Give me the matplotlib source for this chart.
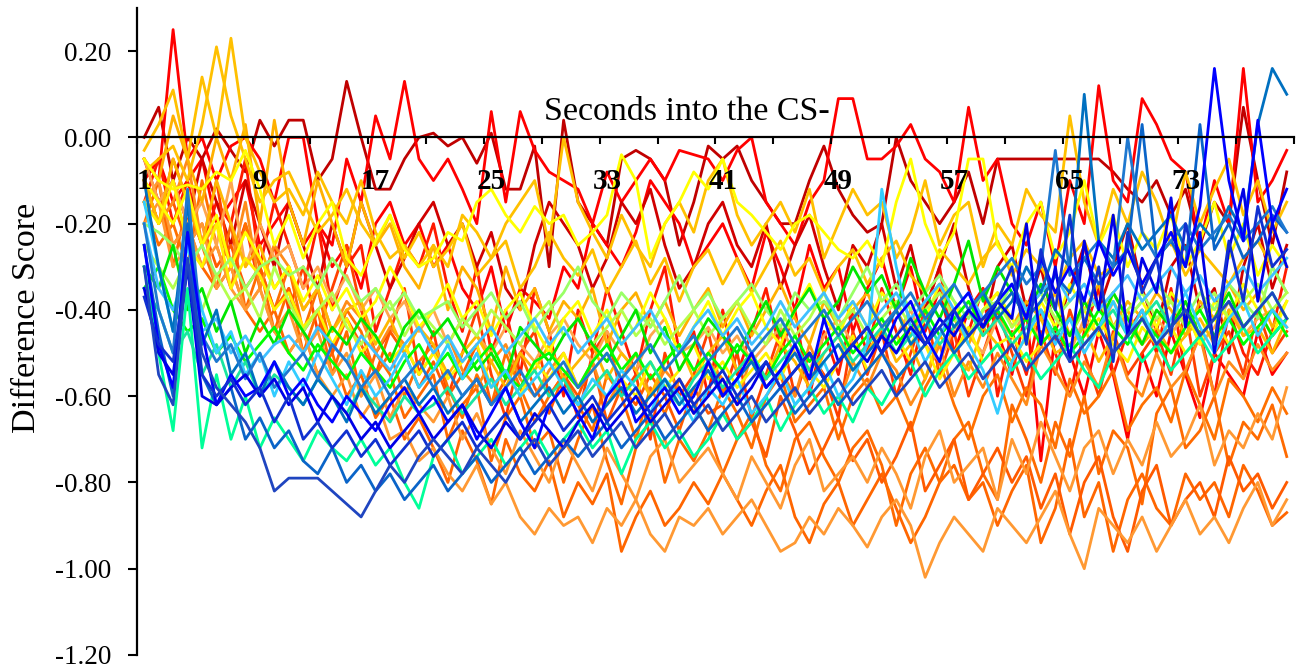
import numpy as np
import matplotlib.pyplot as plt

# one value per second, in hundredths of a difference score
seconds = np.arange(1, 81)

dark_red_1 = [0, 7, -10, 0, -5, 2, -3, -8, 4, -2,
              4, 4, -10, -5, 13, 0, -12, -12, -5, 0,
              1, -2, 0, -6, 1, -12, -12, -2, -30, 4,
              -15, -20, -25, -5, -3, -5, -10, -25, -15, -2,
              -5, -2, -10, -15, -20, -20, -10, -2, -12, -18,
              -22, -20, 0, -10, -15, -20, -15, -8, -20, -5,
              -5, -5, -5, -5, -5, -5, -5, -8, -12, -15,
              -10, -18, -12, -25, -15, -20, 7, -10, -25, -8]
red_1 = [-5, -10, 25, -5, 0, -10, -2, 0, -5, -15,
         0, 0, -20, -25, -5, -15, 5, -5, 13, -5,
         -10, -5, -12, -20, 6, -15, 6, -3, -8, -10,
         -12, -20, -8, -15, -10, -5, -10, -3, -4, -5,
         -10, -3, 0, -15, -20, -25, -15, -10, 9, 9,
         -5, -5, -2, 3, -5, -8, -15, 7, -10, -5,
         -20, -25, -15, -30, -10, -20, 12, -10, -15, 9,
         3, -5, -8, -25, -10, -20, 16, -15, -10, -3]
red_2 = [-10, -5, -15, -10, -5, -20, -15, -10, -25, -20,
         -15, -25, -20, -30, -25, -35, -20, -15, -25, -20,
         -30, -25, -35, -40, -30, -45, -35, -38, -42, -30,
         -35, -20, -25, -30, -22, -10, -15, -20, -30, -25,
         -20, -28, -35, -22, -30, -40, -25, -35, -30, -45,
         -35, -28, -40, -30, -45, -35, -50, -40, -35, -45,
         -55, -40, -75, -45, -50, -60, -45, -55, -70, -50,
         -60, -45, -55, -65, -50, -55, -60, -45, -55, -50]
red_3 = [-15, -5, -20, -10, -25, -15, -20, -5, -30, -15,
         -25, -35, -20, -40, -30, -25, -45, -35, -25, -30,
         -20, -35, -45, -30, -50, -40, -55, -35, -45, -60,
         -40, -50, -35, -45, -55, -40, -30, -50, -45, -60,
         -40, -55, -45, -35, -50, -40, -60, -45, -55, -40,
         -50, -35, -45, -55, -40, -30, -50, -45, -35, -60,
         -45, -55, -40, -50, -60, -45, -35, -55, -45, -40,
         -50, -35, -55, -45, -60, -40, -50, -55, -45, -30]
dark_red_2 = [-5, -15, -10, -20, -5, -15, -25, -10, -20, -30,
              -15, -25, -35, -20, -30, -15, -25, -35, -28, -20,
              -15, -25, -20, -30, -22, -35, -40, -25, -15, -20,
              -25, -35, -28, -15, -20, -12, -25, -35, -30, -20,
              -15, -25, -30, -20, -35, -25, -18, -30, -40, -25,
              -30, -20, -35, -25, -40, -30, -20, -35, -45, -30,
              -25, -40, -30, -45, -35, -25, -40, -30, -20, -35,
              -45, -30, -25, -40, -35, -50, -30, -20, -35, -25]
orange_red = [-10, -20, -5, -15, -25, -10, -30, -20, -35, -25,
              -40, -30, -45, -35, -25, -40, -50, -45, -35, -55,
              -45, -60, -50, -40, -55, -65, -50, -45, -60, -55,
              -65, -50, -45, -60, -55, -70, -50, -60, -55, -45,
              -60, -50, -65, -55, -45, -60, -50, -55, -65, -45,
              -55, -45, -60, -50, -40, -55, -45, -60, -50, -40,
              -50, -60, -45, -55, -40, -50, -60, -45, -55, -50,
              -45, -55, -40, -60, -50, -45, -55, -40, -50, -45]
dark_orange_1 = [-10, -15, -25, -20, -30, -35, -30, -40, -45, -40,
                 -50, -45, -55, -50, -60, -55, -65, -60, -70, -65,
                 -72, -80, -68, -75, -85, -70, -78, -82, -75, -88,
                 -80, -85, -78, -96, -88, -82, -90, -86, -80, -85,
                 -78, -84, -90, -82, -76, -88, -94, -85, -80, -90,
                 -84, -78, -86, -94, -88, -80, -76, -84, -80, -90,
                 -82, -76, -94, -86, -70, -88, -80, -96, -84, -78,
                 -86, -90, -78, -84, -80, -88, -76, -82, -90, -87]
dark_orange_2 = [-20, -10, -30, -15, -25, -35, -20, -40, -30, -45,
                 -35, -50, -40, -55, -45, -60, -50, -55, -65, -60,
                 -55, -70, -62, -58, -75, -65, -60, -72, -68, -80,
                 -70, -62, -75, -85, -72, -65, -80, -70, -75, -68,
                 -78, -70, -64, -76, -82, -70, -66, -74, -80, -72,
                 -68, -76, -90, -78, -72, -80, -70, -66, -78, -84,
                 -62, -70, -80, -66, -74, -60, -78, -68, -72, -85,
                 -64, -58, -72, -68, -60, -76, -66, -70, -62, -74]
dark_orange_3 = [-15, -25, -20, -30, -10, -25, -35, -20, -30, -40,
                 -30, -45, -35, -50, -40, -45, -55, -50, -60, -52,
                 -48, -58, -65, -55, -62, -50, -58, -66, -60, -55,
                 -62, -68, -55, -60, -70, -58, -64, -56, -62, -68,
                 -58, -64, -72, -60, -55, -66, -62, -58, -70, -60,
                 -56, -64, -60, -68, -58, -52, -62, -70, -60, -55,
                 -66, -58, -62, -72, -56, -64, -60, -54, -68, -62,
                 -58, -66, -54, -62, -70, -56, -60, -66, -58, -64]
dark_orange_4 = [-10, -20, -15, -25, -20, -30, -25, -35, -30, -40,
                 -35, -45, -40, -50, -42, -48, -55, -45, -50, -58,
                 -52, -60, -55, -48, -62, -56, -50, -58, -64, -55,
                 -60, -52, -66, -58, -62, -55, -60, -68, -58, -64,
                 -62, -70, -66, -74, -60, -68, -78, -72, -65, -75,
                 -70, -80, -74, -66, -82, -76, -70, -84, -78, -72,
                 -80, -74, -86, -78, -92, -80, -74, -88, -96, -82,
                 -76, -90, -84, -80, -88, -74, -82, -78, -86, -80]
orange_1 = [-15, -10, -25, -20, -30, -25, -35, -40, -35, -45,
            -50, -45, -55, -60, -55, -65, -60, -70, -68, -75,
            -72, -78, -82, -76, -85, -80, -88, -92, -86, -90,
            -88, -94, -86, -90, -84, -92, -96, -88, -90, -86,
            -92, -88, -84, -90, -96, -94, -88, -92, -86, -90,
            -95, -88, -84, -90, -102, -94, -88, -92, -96, -86,
            -90, -94, -88, -82, -92, -100, -86, -90, -94, -88,
            -96, -90, -84, -92, -88, -94, -86, -80, -90, -84]
orange_2 = [-20, -15, -30, -25, -20, -35, -30, -40, -35, -45,
            -40, -50, -45, -55, -50, -60, -55, -65, -58, -62,
            -66, -60, -70, -64, -72, -78, -68, -74, -80, -70,
            -76, -82, -72, -78, -84, -74, -70, -80, -76, -72,
            -78, -84, -74, -80, -86, -76, -70, -82, -78, -74,
            -80, -72, -78, -86, -74, -68, -80, -76, -72, -84,
            -70, -78, -66, -74, -82, -72, -68, -78, -70, -76,
            -66, -74, -70, -62, -76, -68, -72, -64, -70, -58]
orange_3 = [-10, -20, -15, -5, -25, -20, -30, -15, -35, -25,
            -30, -40, -35, -45, -38, -42, -50, -44, -48, -55,
            -50, -46, -54, -58, -52, -48, -56, -60, -54, -50,
            -58, -52, -62, -56, -50, -60, -54, -58, -64, -52,
            -56, -62, -50, -58, -54, -60, -48, -56, -62, -52,
            -58, -50, -54, -62, -56, -48, -60, -52, -58, -50,
            -56, -62, -48, -54, -60, -52, -58, -46, -56, -60,
            -50, -58, -54, -46, -60, -52, -56, -48, -54, -50]
light_orange = [-5, -15, -10, -20, -15, -25, -10, -30, -20, -28,
                -25, -35, -30, -38, -32, -40, -35, -42, -38, -45,
                -40, -48, -42, -46, -50, -44, -48, -52, -46, -42,
                -48, -52, -45, -50, -54, -46, -42, -50, -48, -44,
                -50, -46, -52, -48, -44, -50, -54, -46, -42, -48,
                -44, -50, -46, -40, -48, -52, -44, -46, -50, -42,
                -46, -40, -48, -44, -50, -42, -46, -38, -44, -48,
                -42, -46, -40, -48, -44, -38, -46, -42, -40, -44]
orange_high = [-5, -10, 5, -5, -15, 0, -10, 3, -20, 4,
               -15, -25, -10, -20, -30, -15, -25, -20, -30, -35,
               -25, -40, -30, -35, -45, -30, -40, -35, -45, -38,
               -42, -35, -48, -40, -36, -44, -38, -46, -40, -35,
               -44, -38, -46, -40, -34, -42, -48, -38, -44, -40,
               -36, -44, -40, -46, -38, -34, -42, -48, -40, -36,
               -44, -38, -42, -36, -46, -40, -34, -44, -38, -42,
               -36, -40, -46, -38, -42, -34, -40, -36, -44, -38]
gold_1 = [-3, 3, 11, -5, 14, 0, 23, 0, -8, -15,
          -12, -18, -8, -15, -20, -10, -22, -28, -25, -30,
          -25, -30, -18, -22, -28, -20, -15, -10, -25, 0,
          -15, -22, -28, -18, -25, -30, -20, -15, -22, -10,
          -5, -18, -25, -20, -15, -22, -12, -28, -20, -12,
          -18, -15, -28, -22, -10, -25, -18, -15, -30, -20,
          -25, -12, -18, -22, 5, -15, -25, -12, -20, -8,
          -15, -25, -8, -20, -12, -5, -18, -10, -22, -15]
gold_2 = [-8, -5, -2, -10, 3, 21, 5, -5, -15, -10,
          -8, -15, -22, -18, -12, -20, -25, -18, -28, -22,
          -30, -26, -20, -32, -28, -24, -35, -30, -22, -28,
          -32, -26, -36, -30, -24, -34, -28, -38, -30, -26,
          -34, -28, -36, -30, -24, -32, -28, -36, -30, -26,
          -34, -28, -24, -32, -36, -26, -30, -34, -28, -24,
          -32, -26, -30, -36, -28, -24, -32, -30, -26, -34,
          -28, -24, -32, -26, -30, -34, -28, -24, -30, -36]
gold_3 = [-10, -20, -5, -15, -25, -10, -20, -30, -25, -35,
          -30, -40, -35, -45, -40, -38, -48, -42, -50, -44,
          -48, -55, -50, -46, -52, -58, -50, -54, -48, -56,
          -52, -48, -56, -50, -54, -60, -52, -48, -56, -50,
          -46, -54, -50, -56, -48, -52, -58, -50, -46, -54,
          -50, -44, -52, -48, -56, -46, -50, -54, -44, -48,
          -52, -46, -42, -50, -48, -44, -52, -46, -40, -48,
          -44, -50, -46, -42, -48, -40, -46, -44, -50, -42]
yellow_1 = [-5, -10, -12, -11, -12, -8, -10, -3, -12, -25,
            -18, -28, -20, -15, -28, -32, -24, -18, -26, -30,
            -28, -22, -24, -15, -12, -18, -22, -16, -20, -18,
            -25, -22, -18, -4, -10, -28, -20, -15, -8, -12,
            -5, -15, -18, -22, -26, -20, -18, -22, -26, -28,
            -24, -30, -15, -5, -20, -28, -22, -5, -5, -25,
            -30, -20, -15, -28, -22, -10, -25, -18, -30, -22,
            -26, -18, -30, -24, -15, -28, -20, -32, -25, -30]
yellow_2 = [-10, -15, -20, -12, -25, -18, -30, -22, -28, -35,
            -30, -38, -32, -40, -35, -42, -38, -30, -36, -44,
            -40, -34, -42, -38, -46, -40, -36, -44, -50, -42,
            -38, -46, -40, -48, -44, -36, -42, -50, -44, -38,
            -46, -40, -36, -44, -48, -40, -34, -42, -46, -38,
            -44, -36, -40, -48, -42, -34, -38, -46, -40, -36,
            -42, -48, -38, -44, -34, -40, -46, -36, -42, -38,
            -44, -36, -40, -48, -38, -42, -34, -40, -46, -38]
pale_yellow = [-15, -20, -10, -25, -30, -20, -35, -28, -32, -40,
               -36, -44, -40, -48, -42, -50, -46, -52, -48, -55,
               -50, -56, -52, -48, -58, -54, -60, -52, -56, -50,
               -58, -54, -50, -56, -60, -52, -58, -54, -48, -56,
               -52, -58, -54, -50, -56, -48, -54, -58, -52, -46,
               -54, -50, -46, -52, -48, -56, -50, -44, -52, -48,
               -46, -52, -48, -44, -50, -46, -42, -48, -52, -44,
               -48, -44, -50, -46, -42, -48, -44, -40, -46, -42]
light_green_1 = [-20, -22, -25, -30, -25, -32, -28, -35, -30, -28,
                 -32, -30, -35, -28, -33, -38, -35, -40, -36, -42,
                 -40, -38, -44, -40, -36, -42, -38, -45, -40, -36,
                 -30, -38, -42, -36, -40, -44, -38, -32, -40, -36,
                 -42, -38, -34, -40, -44, -36, -40, -38, -42, -36,
                 -30, -38, -34, -40, -36, -32, -38, -42, -36, -40,
                 -34, -40, -36, -42, -38, -34, -40, -36, -42, -38,
                 -34, -38, -42, -36, -40, -34, -38, -42, -30, -36]
light_green_2 = [-25, -30, -35, -28, -40, -32, -38, -35, -42, -30,
                 -38, -45, -40, -36, -44, -48, -42, -38, -46, -40,
                 -44, -48, -42, -46, -40, -44, -48, -42, -38, -46,
                 -42, -48, -44, -40, -46, -42, -48, -44, -40, -46,
                 -42, -38, -44, -48, -40, -46, -42, -36, -44, -40,
                 -46, -42, -38, -44, -40, -36, -42, -46, -40, -38,
                 -44, -40, -36, -42, -46, -40, -38, -44, -40, -36,
                 -42, -38, -44, -40, -36, -42, -38, -34, -40, -36]
green_1 = [-30, -35, -25, -40, -35, -45, -38, -50, -42, -48,
           -40, -45, -50, -44, -48, -42, -46, -52, -44, -40,
           -46, -42, -48, -54, -50, -56, -44, -48, -52, -46,
           -42, -48, -52, -46, -40, -50, -44, -54, -48, -42,
           -46, -50, -44, -38, -46, -40, -35, -42, -38, -30,
           -36, -32, -40, -28, -36, -42, -34, -24, -38, -30,
           -36, -42, -34, -40, -46, -38, -44, -36, -42, -48,
           -40, -44, -38, -46, -42, -36, -44, -40, -46, -42]
green_2 = [-35, -30, -40, -45, -42, -50, -46, -52, -48, -44,
           -50, -54, -48, -52, -56, -50, -54, -58, -52, -48,
           -54, -50, -56, -52, -48, -55, -58, -52, -50, -54,
           -58, -52, -48, -54, -50, -56, -52, -48, -54, -50,
           -54, -48, -52, -56, -50, -46, -52, -48, -44, -50,
           -46, -42, -48, -44, -40, -46, -42, -38, -44, -40,
           -46, -42, -48, -44, -50, -46, -40, -44, -48, -42,
           -46, -50, -44, -40, -46, -42, -48, -44, -40, -46]
spring_green_1 = [-30, -50, -68, -35, -72, -55, -70, -60, -72, -65,
                  -70, -75, -68, -72, -75, -70, -76, -72, -80, -86,
                  -74, -70, -78, -74, -70, -76, -72, -68, -74, -70,
                  -66, -72, -68, -78, -70, -66, -72, -68, -74, -70,
                  -64, -70, -66, -60, -68, -62, -58, -64, -60, -66,
                  -58, -62, -56, -52, -60, -54, -50, -56, -52, -48,
                  -54, -50, -56, -52, -48, -54, -58, -50, -46, -52,
                  -48, -54, -50, -46, -52, -48, -44, -50, -46, -42]
spring_green_2 = [-35, -40, -50, -45, -55, -48, -58, -52, -60, -55,
                  -58, -62, -56, -60, -64, -58, -62, -66, -60, -64,
                  -62, -58, -64, -60, -56, -62, -58, -54, -60, -56,
                  -62, -58, -54, -60, -56, -52, -58, -62, -56, -52,
                  -58, -54, -50, -56, -52, -48, -54, -50, -46, -52,
                  -48, -44, -50, -46, -42, -48, -44, -40, -46, -42,
                  -48, -44, -40, -46, -42, -48, -44, -40, -46, -42,
                  -38, -44, -40, -46, -42, -38, -44, -40, -36, -42]
sky_1 = [-15, -30, -45, -25, -40, -50, -45, -55, -50, -60,
         -52, -58, -50, -56, -62, -54, -60, -56, -50, -58,
         -54, -48, -56, -50, -58, -54, -60, -56, -52, -58,
         -62, -56, -60, -54, -58, -64, -56, -60, -66, -58,
         -62, -56, -64, -60, -54, -62, -58, -52, -60, -56,
         -48, -12, -30, -44, -52, -46, -40, -48, -54, -64,
         -52, -46, -40, -48, -42, -50, -44, -38, -46, -40,
         -48, -42, -36, -44, -50, -42, -38, -46, -40, -44]
sky_2 = [-20, -35, -40, -30, -45, -42, -50, -46, -52, -48,
         -46, -50, -44, -48, -52, -46, -50, -54, -48, -44,
         -50, -46, -52, -48, -44, -50, -46, -42, -48, -44,
         -50, -46, -42, -48, -44, -40, -46, -50, -44, -40,
         -46, -42, -48, -44, -38, -44, -40, -36, -42, -38,
         -44, -40, -36, -42, -38, -34, -40, -36, -42, -38,
         -34, -40, -36, -32, -38, -34, -40, -36, -32, -38,
         -34, -30, -36, -32, -38, -34, -30, -36, -32, -28]
steel_blue_1 = [-10, -30, -45, -15, -48, -40, -55, -50, -60, -52,
                -58, -62, -56, -60, -66, -58, -64, -60, -56, -62,
                -58, -64, -60, -56, -62, -58, -66, -62, -58, -64,
                -60, -66, -62, -58, -64, -60, -56, -62, -58, -54,
                -60, -56, -52, -58, -54, -50, -56, -52, -48, -54,
                -50, -46, -40, -48, -44, -38, -44, -40, -36, -42,
                -38, -30, -36, -26, -30, 10, -24, -28, -20, -26,
                -22, -18, -26, -20, -24, -16, -22, 3, 16, 10]
steel_blue_2 = [-25, -45, -60, -20, -55, -62, -58, -70, -65, -72,
                -68, -75, -78, -72, -80, -76, -82, -78, -84, -80,
                -76, -82, -78, -74, -80, -76, -72, -78, -74, -70,
                -74, -70, -66, -72, -68, -64, -70, -66, -62, -68,
                -64, -60, -66, -62, -58, -64, -60, -56, -62, -58,
                -54, -50, -56, -52, -48, -44, -50, -46, -42, -40,
                -36, -42, -38, -32, -36, -28, -34, -30, -26, 3,
                -28, -24, -30, 3, -26, -20, -28, -24, -18, -22]
steel_blue_3 = [-20, -40, -50, -12, -46, -52, -48, -56, -50, -58,
                -54, -50, -56, -48, -52, -58, -54, -60, -56, -52,
                -58, -54, -60, -56, -62, -58, -54, -60, -56, -52,
                -58, -54, -50, -56, -52, -48, -54, -50, -46, -52,
                -48, -44, -50, -46, -42, -48, -44, -40, -46, -42,
                -38, -44, -40, -36, -42, -38, -34, -40, -36, -32,
                -28, -34, -30, -3, -32, -28, -24, -30, 0, -22,
                -28, -24, -20, -26, -22, -18, -24, -20, -16, -22]
blue_1 = [-25, -48, -58, -22, -45, -62, -55, -60, -58, -52,
          -60, -56, -62, -66, -60, -64, -68, -62, -58, -64,
          -60, -66, -62, -70, -64, -58, -66, -72, -62, -58,
          -64, -70, -60, -56, -66, -62, -58, -64, -60, -52,
          -60, -56, -50, -58, -54, -48, -56, -42, -52, -48,
          -44, -50, -42, -38, -46, -52, -40, -36, -44, -38,
          -34, -42, -28, -36, -30, -38, -24, -32, -26, -34,
          -28, -22, -30, -16, 16, -10, -24, 4, -20, -12]
blue_2 = [-35, -50, -55, -30, -60, -62, -58, -55, -60, -56,
          -62, -58, -66, -60, -64, -70, -66, -72, -68, -64,
          -70, -66, -62, -68, -72, -66, -70, -64, -68, -72,
          -66, -62, -68, -64, -60, -66, -62, -58, -64, -60,
          -56, -62, -58, -52, -58, -54, -50, -56, -52, -48,
          -52, -46, -50, -44, -48, -42, -46, -40, -44, -38,
          -42, -20, -48, -30, -52, -24, -40, -18, -46, -28,
          -36, -14, -44, -22, -50, -26, -12, -38, -20, -30]
blue_3 = [-37, -48, -52, -30, -55, -60, -56, -62, -58, -66,
          -60, -70, -66, -72, -68, -74, -70, -76, -72, -68,
          -74, -70, -66, -72, -68, -64, -70, -66, -62, -68,
          -64, -60, -66, -62, -58, -64, -60, -56, -62, -58,
          -54, -60, -56, -52, -58, -54, -50, -56, -52, -48,
          -44, -50, -46, -42, -48, -44, -40, -46, -42, -38,
          -30, -48, -26, -40, -18, -44, -30, -52, -22, -36,
          -28, -46, -20, -34, -48, -24, -38, -16, -30, -26]
navy = [-30, -55, -62, -28, -50, -58, -62, -66, -72, -82,
        -79, -79, -79, -82, -85, -88, -82, -76, -80, -74,
        -70, -74, -78, -72, -76, -80, -74, -70, -76, -72,
        -68, -74, -70, -66, -72, -68, -64, -70, -66, -62,
        -68, -64, -60, -66, -62, -58, -64, -60, -56, -62,
        -58, -54, -60, -56, -52, -58, -54, -50, -56, -52,
        -48, -54, -50, -46, -52, -48, -44, -50, -46, -42,
        -48, -44, -40, -46, -42, -38, -44, -40, -36, -42]

series = [dark_red_1, red_1, red_2, red_3, dark_red_2, orange_red,
          dark_orange_1, dark_orange_2, dark_orange_3, dark_orange_4,
          orange_1, orange_2, orange_3, light_orange, orange_high,
          gold_1, gold_2, gold_3, yellow_1, yellow_2, pale_yellow,
          light_green_1, light_green_2, green_1, green_2,
          spring_green_1, spring_green_2, sky_1, sky_2,
          steel_blue_1, steel_blue_2, steel_blue_3,
          blue_1, blue_2, blue_3, navy]
colors = ['#C00000', '#FF0000', '#FF0000', '#FF1A00', '#D00000', '#FF4000',
          '#FF6600', '#FF6A00', '#FF7000', '#FF5A00',
          '#FF9933', '#FF9933', '#FF8C1A', '#FFA64D', '#FFB000',
          '#FFC000', '#FFC000', '#FFB800', '#FFFF00', '#FFFF00', '#FFF200',
          '#99FF66', '#B3FF4D', '#00E600', '#00FF00',
          '#00FF99', '#1AE6A0', '#33CCFF', '#3FC0FF',
          '#0070C0', '#0A64C8', '#1E78D0',
          '#0000FF', '#0000E6', '#1030D0', '#1F45C0']

y_ticks = [-1.2, -1.0, -0.8, -0.6, -0.4, -0.2, 0.0, 0.2]
x_label_pos = [1, 9, 17, 25, 33, 41, 49, 57, 65, 73]

plt.rcParams['font.family'] = 'Liberation Serif'
fig = plt.figure(figsize=(12.98, 6.69), dpi=100)
ax = fig.add_axes([0.1055, 0.021, 0.8914, 0.967])
ax.set_axisbelow(False)

for vals, col in zip(series, colors):
    ax.plot(seconds, np.array(vals) / 100, color=col, lw=2.0)

ax.set_xlim(0.5, 80.5)
ax.set_ylim(-1.2, 0.3)
ax.spines['top'].set_visible(False)
ax.spines['right'].set_visible(False)
ax.spines['bottom'].set_position(('data', 0))
ax.spines['bottom'].set_linewidth(1.6)
ax.spines['left'].set_linewidth(1.6)
ax.spines['bottom'].set_zorder(3)

ax.set_yticks(y_ticks)
ax.set_yticklabels([f'{v:.2f}' for v in y_ticks], fontsize=19.5)
ax.tick_params(axis='y', direction='out', length=6.5, width=1.5, pad=12)

ax.set_xticks(np.arange(0.5, 81, 4))
ax.tick_params(axis='x', which='major', direction='out', length=5, width=1.5,
               labelbottom=False)
ax.set_xticks(x_label_pos, minor=True)
ax.set_xticklabels([str(v) for v in x_label_pos], minor=True,
                   fontsize=21, fontweight='bold')
ax.tick_params(axis='x', which='minor', length=0, pad=22)

ax.text(0.475, 0.8263, 'Seconds into the CS-', transform=ax.transAxes,
        ha='center', va='baseline', fontsize=24.5)
fig.text(27 / 1298, 1 - 318 / 669, 'Difference Score', rotation=90,
         ha='center', va='center', fontsize=24.5)

fig.savefig('out.png', dpi=100)
